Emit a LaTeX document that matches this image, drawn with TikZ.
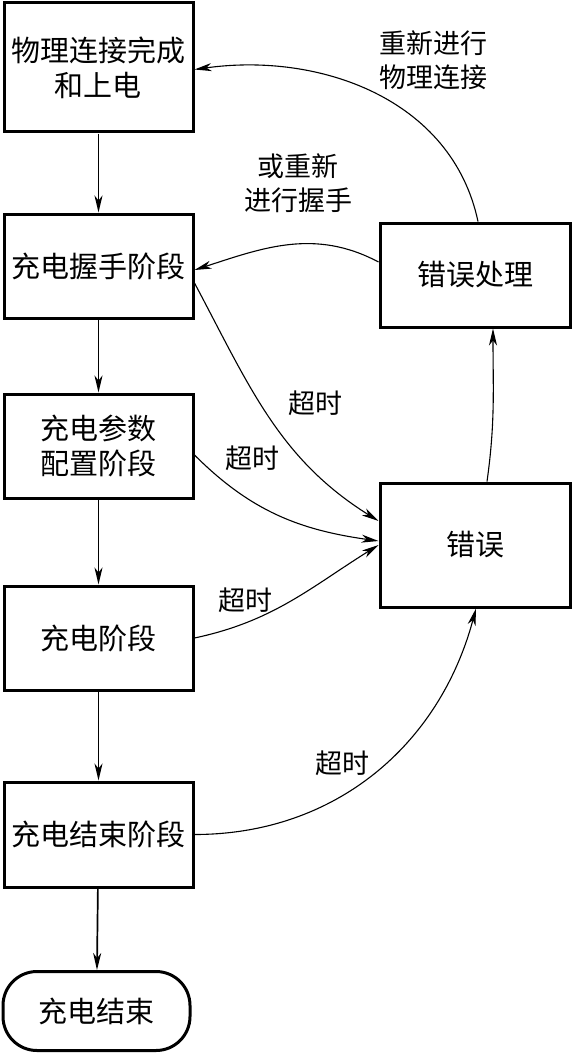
\documentclass[tikz,border=0pt]{standalone}
\usepackage{fontspec}
\usepackage{tikz}
\usetikzlibrary{arrows.meta}
\newfontfamily\cjk{Noto Sans CJK SC}

\begin{document}
\begin{tikzpicture}[
  x=1pt, y=-1pt,
  font=\cjk\fontsize{29}{35}\selectfont,
  stagebox/.style={draw, line width=3pt, minimum width=189pt,
    minimum height=104pt, align=center, inner sep=0pt},
  endbox/.style={draw, line width=3pt, rounded corners=34pt,
    minimum width=187pt, minimum height=79pt, inner sep=0pt},
  flow/.style={line width=1.7pt, -{Stealth[length=17pt,width=8pt,inset=5pt]}},
  back/.style={line width=1.1pt, -{Stealth[length=17pt,width=8pt,inset=5pt]}},
  tag/.style={align=center, inner sep=0pt, font=\cjk\fontsize{27}{34}\selectfont}
]
  \useasboundingbox (0,0) rectangle (572,1054);

  % left column
  \node[stagebox, minimum height=129pt] (connect) at (98.5,67.5) {物理连接完成\\和上电};
  \node[stagebox] (handshake) at (98.5,266) {充电握手阶段};
  \node[stagebox] (config) at (98.5,446) {充电参数\\配置阶段};
  \node[stagebox] (charging) at (98.5,638) {充电阶段};
  \node[stagebox, minimum height=105pt] (ending) at (98.5,834.5) {充电结束阶段};
  \node[endbox] (done) at (96.5,1011) {充电结束};

  % right column
  \node[stagebox, minimum width=190pt] (handle) at (475,275) {错误处理};
  \node[stagebox, minimum width=190pt, minimum height=124pt] (error) at (475,545) {错误};

  \draw[flow] (connect) -- (handshake);
  \draw[flow] (handshake) -- (config);
  \draw[flow] (config) -- (charging);
  \draw[flow] (charging) -- (ending);
  \draw[flow] (ending) -- (done);

  % timeouts
  \draw[back] ([yshift=-17pt]handshake.east) to[out=-62, in=148] ([yshift=24pt]error.west);
  \draw[back] ([yshift=-9pt]config.east) to[out=-45, in=172] ([yshift=4pt]error.west);
  \draw[back] (charging.east) to[out=12, in=212] (error.west);
  \draw[back] (ending.east) to[out=0, in=-105] ([xshift=1pt]error.south);

  % recovery
  \draw[back] ([xshift=12pt]error.north) to[out=82, in=-90] ([xshift=18pt]handle.south);
  \draw[back] ([yshift=13pt]handle.west) to[out=152, in=18] ([yshift=-4pt]handshake.east);
  \draw[back] ([xshift=3pt]handle.north) to[out=102, in=8] ([yshift=-2pt]connect.east);

  \node[tag] (reconnect) at (433,60) {重新进行\\物理连接};
  \node[tag] (rehandshake) at (298,183) {或重新\\进行握手};
  \node[tag] (timeout1) at (315,403) {超时};
  \node[tag] (timeout2) at (252,458) {超时};
  \node[tag] (timeout3) at (245,600) {超时};
  \node[tag] (timeout4) at (342,763) {超时};
\end{tikzpicture}
\end{document}
